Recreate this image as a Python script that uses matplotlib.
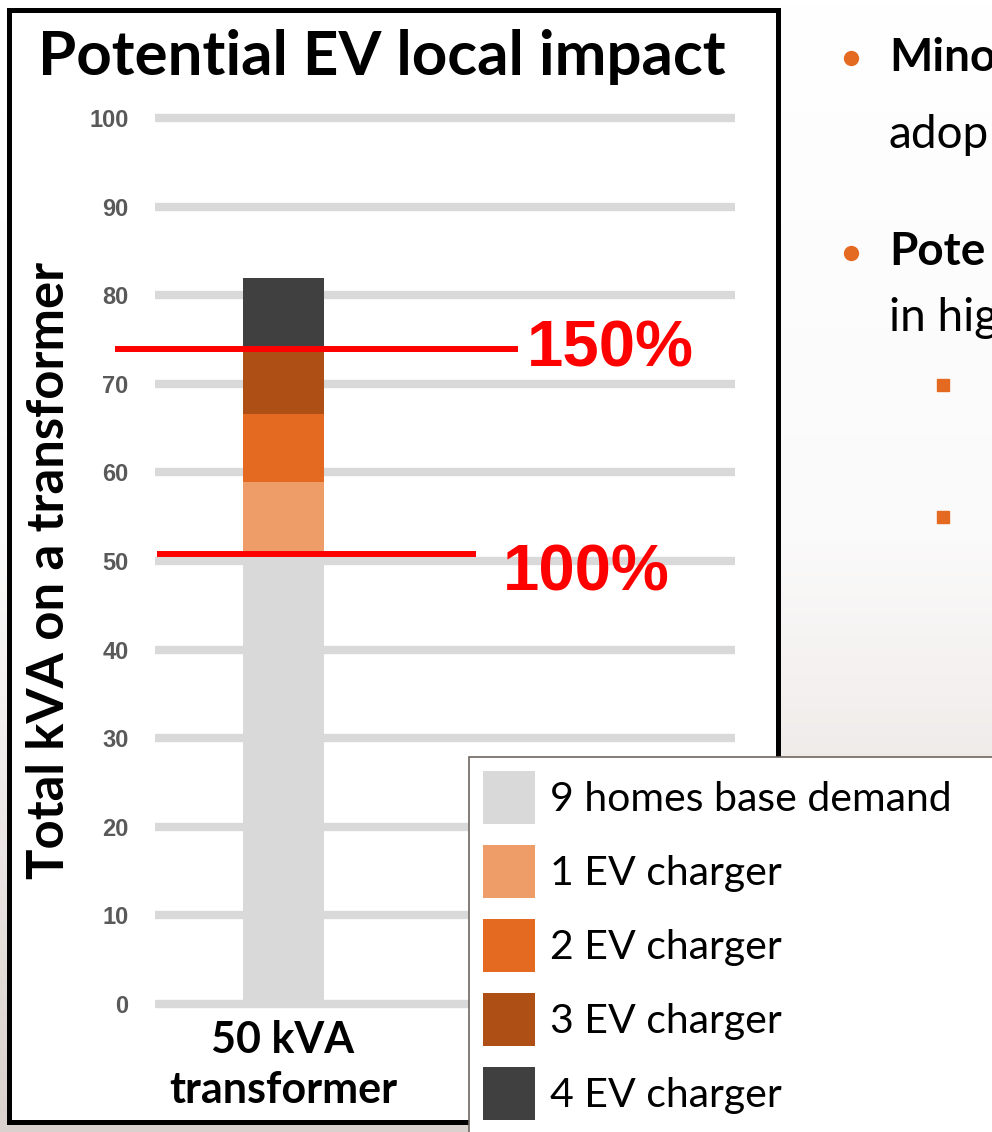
import numpy as np
import matplotlib.pyplot as plt
from matplotlib.colors import LinearSegmentedColormap
from matplotlib.patches import Rectangle
from matplotlib.lines import Line2D

# data
categories = ["50 kVA\ntransformer"]
base_demand = [51.1]
ev1 = [7.8]
ev2 = [7.7]
ev3 = [7.6]
ev4 = [7.7]
series_labels = ["9 homes base demand", "1 EV charger", "2 EV charger",
                 "3 EV charger", "4 EV charger"]
series_colors = ["#d9d9d9", "#ee9c68", "#e46a21", "#ae4f15", "#404040"]
limit_levels = [50.8, 73.9]
limit_labels = ["100%", "150%"]
yticks = np.arange(0, 101, 10)

W, H = 992, 1132
fig = plt.figure(figsize=(W / 100, H / 100), dpi=100)

def fx(px):
    return px / W

def fy(py):
    return 1 - py / H

# slide background gradient
bg = fig.add_axes([0, 0, 1, 1], zorder=-10)
grad = LinearSegmentedColormap.from_list(
    "bg", [(0, "#ffffff"), (0.48, "#fbfafa"), (0.68, "#efebe9"), (1, "#d9d1cd")])
bg.imshow(np.linspace(0, 1, 200).reshape(-1, 1), cmap=grad, aspect="auto",
          extent=[0, 1, 0, 1], origin="upper")
bg.set_xlim(0, 1)
bg.set_ylim(0, 1)
bg.axis("off")

# white chart panel with black border
fig.patches.append(Rectangle((fx(9), fy(1122)), fx(778) - fx(9), fy(10) - fy(1122),
                             transform=fig.transFigure, facecolor="white",
                             edgecolor="black", lw=3.6, zorder=-5))

# axes: 0 -> y=1004px, 100 -> y=118px
ppu = (1004 - 118) / 100
ax = fig.add_axes([fx(155), fy(1004 + ppu), fx(735) - fx(155), (100 + 2) * ppu / H])
ax.set_ylim(-1, 101)
bar_px = 81
unit = bar_px / 0.6
ax.set_xlim(-(283 - 155) / unit, (735 - 283) / unit)
ax.patch.set_alpha(0)
for s in ax.spines.values():
    s.set_visible(False)

x = np.arange(len(categories))
stack = [base_demand, ev1, ev2, ev3, ev4]
bottom = np.zeros(len(categories))
handles = []
for vals, lab, col in zip(stack, series_labels, series_colors):
    b = ax.bar(x, vals, 0.6, bottom=bottom, color=col, label=lab, zorder=3)
    handles.append(b)
    bottom = bottom + np.array(vals)

ax.set_axisbelow(True)
ax.yaxis.grid(True, color="#d9d9d9", lw=6)
ax.set_yticks(yticks)
ax.set_yticklabels([str(t) for t in yticks], family="Liberation Sans",
                   fontweight="bold", fontsize=17, color="#595959")
ax.tick_params(axis="y", length=0, pad=19)
ax.set_xticks(x)
ax.set_xticklabels(categories, family="Lato", fontweight="bold", fontsize=31,
                   linespacing=1.3)
ax.tick_params(axis="x", length=0, pad=5)

# threshold lines and labels
line_x = {50.8: ((157 - 283) / unit, (476 - 283) / unit),
          73.9: ((115 - 283) / unit, (518 - 283) / unit)}
text_x = {50.8: (503 - 283) / unit, 73.9: (527 - 283) / unit}
text_dy = {50.8: -2.2, 73.9: 0.0}
for lvl, lab in zip(limit_levels, limit_labels):
    x0, x1 = line_x[lvl]
    ax.plot([x0, x1], [lvl, lvl], color="#ff0000", lw=4.3, zorder=5, clip_on=False,
            solid_capstyle="butt")
    ax.text(text_x[lvl], lvl + text_dy[lvl], lab, color="#ff0000", fontsize=47,
            fontweight="bold", family="Liberation Sans", va="center", ha="left",
            zorder=6, clip_on=False)

# titles
fig.text(fx(38), fy(75), "Potential EV local impact", family="Lato",
         fontweight="bold", fontsize=44.5, va="baseline", ha="left")
fig.text(fx(50), fy(570), "Total kVA on a transformer", family="Lato",
         fontweight="bold", fontsize=36.5, rotation=90, va="center", ha="center")

# legend overlapping the panel
leg = ax.legend(handles=handles, loc="upper left",
                bbox_to_anchor=(fx(469), fy(1200), 0.6, fy(757) - fy(1200)),
                bbox_transform=fig.transFigure, mode="expand",
                prop={"family": "Lato", "size": 29.5}, frameon=True, fancybox=False,
                framealpha=1, edgecolor="#6e6660", handlelength=1.27,
                handleheight=1.6, handletextpad=0.35, labelspacing=0.52,
                borderpad=0.35, borderaxespad=0)
leg.get_frame().set_linewidth(1.2)
leg.set_zorder(10)

# partially visible slide text on the right
orange = "#e46a21"
for py in [58, 253]:
    fig.add_artist(Line2D([fx(851)], [fy(py)], marker="o", ms=10, color=orange,
                          transform=fig.transFigure))
for py in [385, 517]:
    fig.add_artist(Line2D([fx(943)], [fy(py)], marker="s", ms=8, color=orange,
                          transform=fig.transFigure))
slide_lines = [(58, "Mino", "bold"), (135, "adop", "normal"),
               (252, "Pote", "bold"), (318, "in hig", "normal")]
for py, txt, wt in slide_lines:
    fig.text(fx(889), fy(py), txt, family="Lato", fontweight=wt, fontsize=33,
             va="center", ha="left")

fig.savefig("out.png", dpi=100)
